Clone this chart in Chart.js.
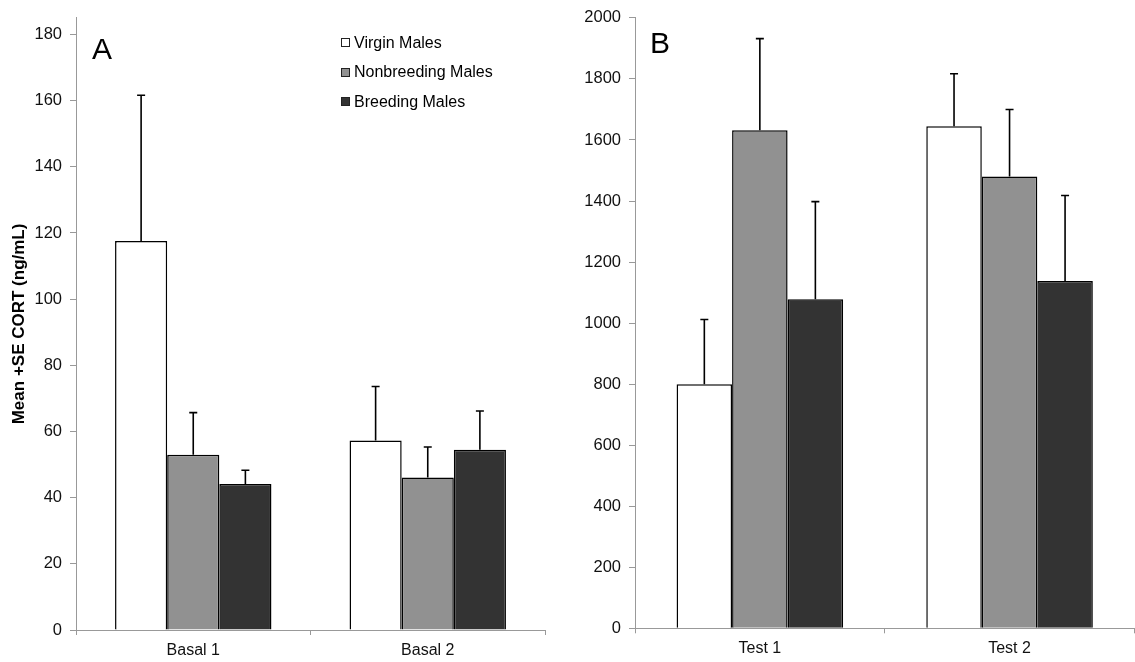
<!DOCTYPE html>
<html>
<head>
<meta charset="utf-8">
<script src="https://cdn.jsdelivr.net/npm/chart.js@4/dist/chart.umd.min.js"></script>
<style>
  body { margin: 0; background: #fff; font-family: 'Liberation Sans', Arial, sans-serif; }
  #wrap { position: relative; width: 1135px; height: 662px; }
  .pane { position: absolute; top: 0; height: 662px; }
  .letter { position: absolute; font-size: 30px; line-height: 30px; color: #000; }
  #legend { position: absolute; left: 341px; top: 28px; font-size: 16px; color: #000; }
  #legend .row { display: flex; align-items: center; height: 29.5px; }
  #legend .box { width: 7px; height: 7px; border: 1px solid #222; margin-right: 4px; }
</style>
</head>
<body>
<div id="wrap">
  <div class="pane" style="left:0;width:560px"><canvas id="chartA"></canvas></div>
  <div class="pane" style="left:560px;width:575px"><canvas id="chartB"></canvas></div>
  <div class="letter" style="left:92px;top:34px">A</div>
  <div class="letter" style="left:650px;top:28px">B</div>
  <div id="legend"></div>
</div>
<script>
// 系列
const seriesLabels = ['Virgin Males', 'Nonbreeding Males', 'Breeding Males'];
const seriesColors = ['#ffffff', '#919191', '#333333'];

// A: Basal
const basalLabels = ['Basal 1', 'Basal 2'];
const basalVirgin = [117.6, 57.3];
const basalVirginSE = [44.0, 16.3];
const basalNonbreeding = [53.0, 46.1];
const basalNonbreedingSE = [12.7, 9.2];
const basalBreeding = [44.1, 54.5];
const basalBreedingSE = [4.2, 11.7];
const basalTicks = [0, 20, 40, 60, 80, 100, 120, 140, 160, 180];

// B: Test
const testLabels = ['Test 1', 'Test 2'];
const testVirgin = [800, 1645];
const testVirginSE = [212, 172];
const testNonbreeding = [1632, 1480];
const testNonbreedingSE = [300, 220];
const testBreeding = [1078, 1138];
const testBreedingSE = [320, 280];
const testTicks = [0, 200, 400, 600, 800, 1000, 1200, 1400, 1600, 1800, 2000];

Chart.defaults.font.family = "'Liberation Sans', Arial, sans-serif";
Chart.defaults.color = '#111';

// エラーバー（+SE のみ）
const errorBars = {
  id: 'errorBars',
  afterDatasetsDraw(chart) {
    const ctx = chart.ctx;
    const yScale = chart.scales.y;
    ctx.save();
    ctx.strokeStyle = '#000';
    ctx.lineWidth = 1.6;
    chart.data.datasets.forEach((ds, i) => {
      chart.getDatasetMeta(i).data.forEach((bar, j) => {
        const top = yScale.getPixelForValue(ds.data[j] + ds.errors[j]);
        ctx.beginPath();
        ctx.moveTo(bar.x, bar.y);
        ctx.lineTo(bar.x, top);
        ctx.moveTo(bar.x - 4, top);
        ctx.lineTo(bar.x + 4, top);
        ctx.stroke();
      });
    });
    ctx.restore();
  }
};

function makeDatasets(values, errors) {
  return values.map((data, i) => ({
    label: seriesLabels[i],
    data: data,
    errors: errors[i],
    backgroundColor: seriesColors[i],
    borderColor: '#000',
    borderWidth: 1.5,
    categoryPercentage: 0.667,
    barPercentage: 1.0
  }));
}

function makeOptions(cfg) {
  return {
    responsive: true,
    maintainAspectRatio: false,
    animation: false,
    layout: { padding: { top: cfg.padTop, right: cfg.padRight, left: 0, bottom: 0 } },
    plugins: { legend: { display: false }, tooltip: { enabled: false } },
    scales: {
      x: {
        grid: { drawOnChartArea: false, offset: true, tickLength: 5, color: '#999' },
        border: { color: '#999', width: 1 },
        ticks: { padding: 6, font: { size: 16 } },
        afterFit: (s) => { s.height = cfg.xHeight; }
      },
      y: {
        min: 0,
        max: cfg.max,
        bounds: 'data',
        grid: { drawOnChartArea: false, tickLength: 6, color: '#999' },
        border: { color: '#999', width: 1 },
        ticks: {
          stepSize: cfg.step,
          includeBounds: false,
          padding: 8,
          font: { size: 16.5 },
          callback: (v) => String(v)
        },
        afterBuildTicks: (s) => { s.ticks = cfg.ticks.map(v => ({ value: v })); },
        title: cfg.title ? {
          display: true,
          text: cfg.title,
          color: '#000',
          font: { size: 17, weight: 'bold' },
          padding: { top: 9, bottom: 0 }
        } : { display: false },
        afterFit: (s) => { s.width = cfg.yWidth; }
      }
    }
  };
}

new Chart(document.getElementById('chartA'), {
  type: 'bar',
  data: {
    labels: basalLabels,
    datasets: makeDatasets(
      [basalVirgin, basalNonbreeding, basalBreeding],
      [basalVirginSE, basalNonbreedingSE, basalBreedingSE]
    )
  },
  options: makeOptions({
    max: 185, step: 20, ticks: basalTicks, yWidth: 76, xHeight: 32,
    padTop: 16.7, padRight: 15, title: 'Mean +SE CORT (ng/mL)'
  }),
  plugins: [errorBars]
});

new Chart(document.getElementById('chartB'), {
  type: 'bar',
  data: {
    labels: testLabels,
    datasets: makeDatasets(
      [testVirgin, testNonbreeding, testBreeding],
      [testVirginSE, testNonbreedingSE, testBreedingSE]
    )
  },
  options: makeOptions({
    max: 2000, step: 200, ticks: testTicks, yWidth: 75, xHeight: 33.7,
    padTop: 15.6, padRight: 0.6, title: null
  }),
  plugins: [errorBars]
});

// 凡例（パネルA内）
const legendEl = document.getElementById('legend');
seriesLabels.forEach((label, i) => {
  const row = document.createElement('div');
  row.className = 'row';
  row.innerHTML = `<span class="box" style="background:${seriesColors[i]}"></span><span>${label}</span>`;
  legendEl.appendChild(row);
});
</script>
</body>
</html>
